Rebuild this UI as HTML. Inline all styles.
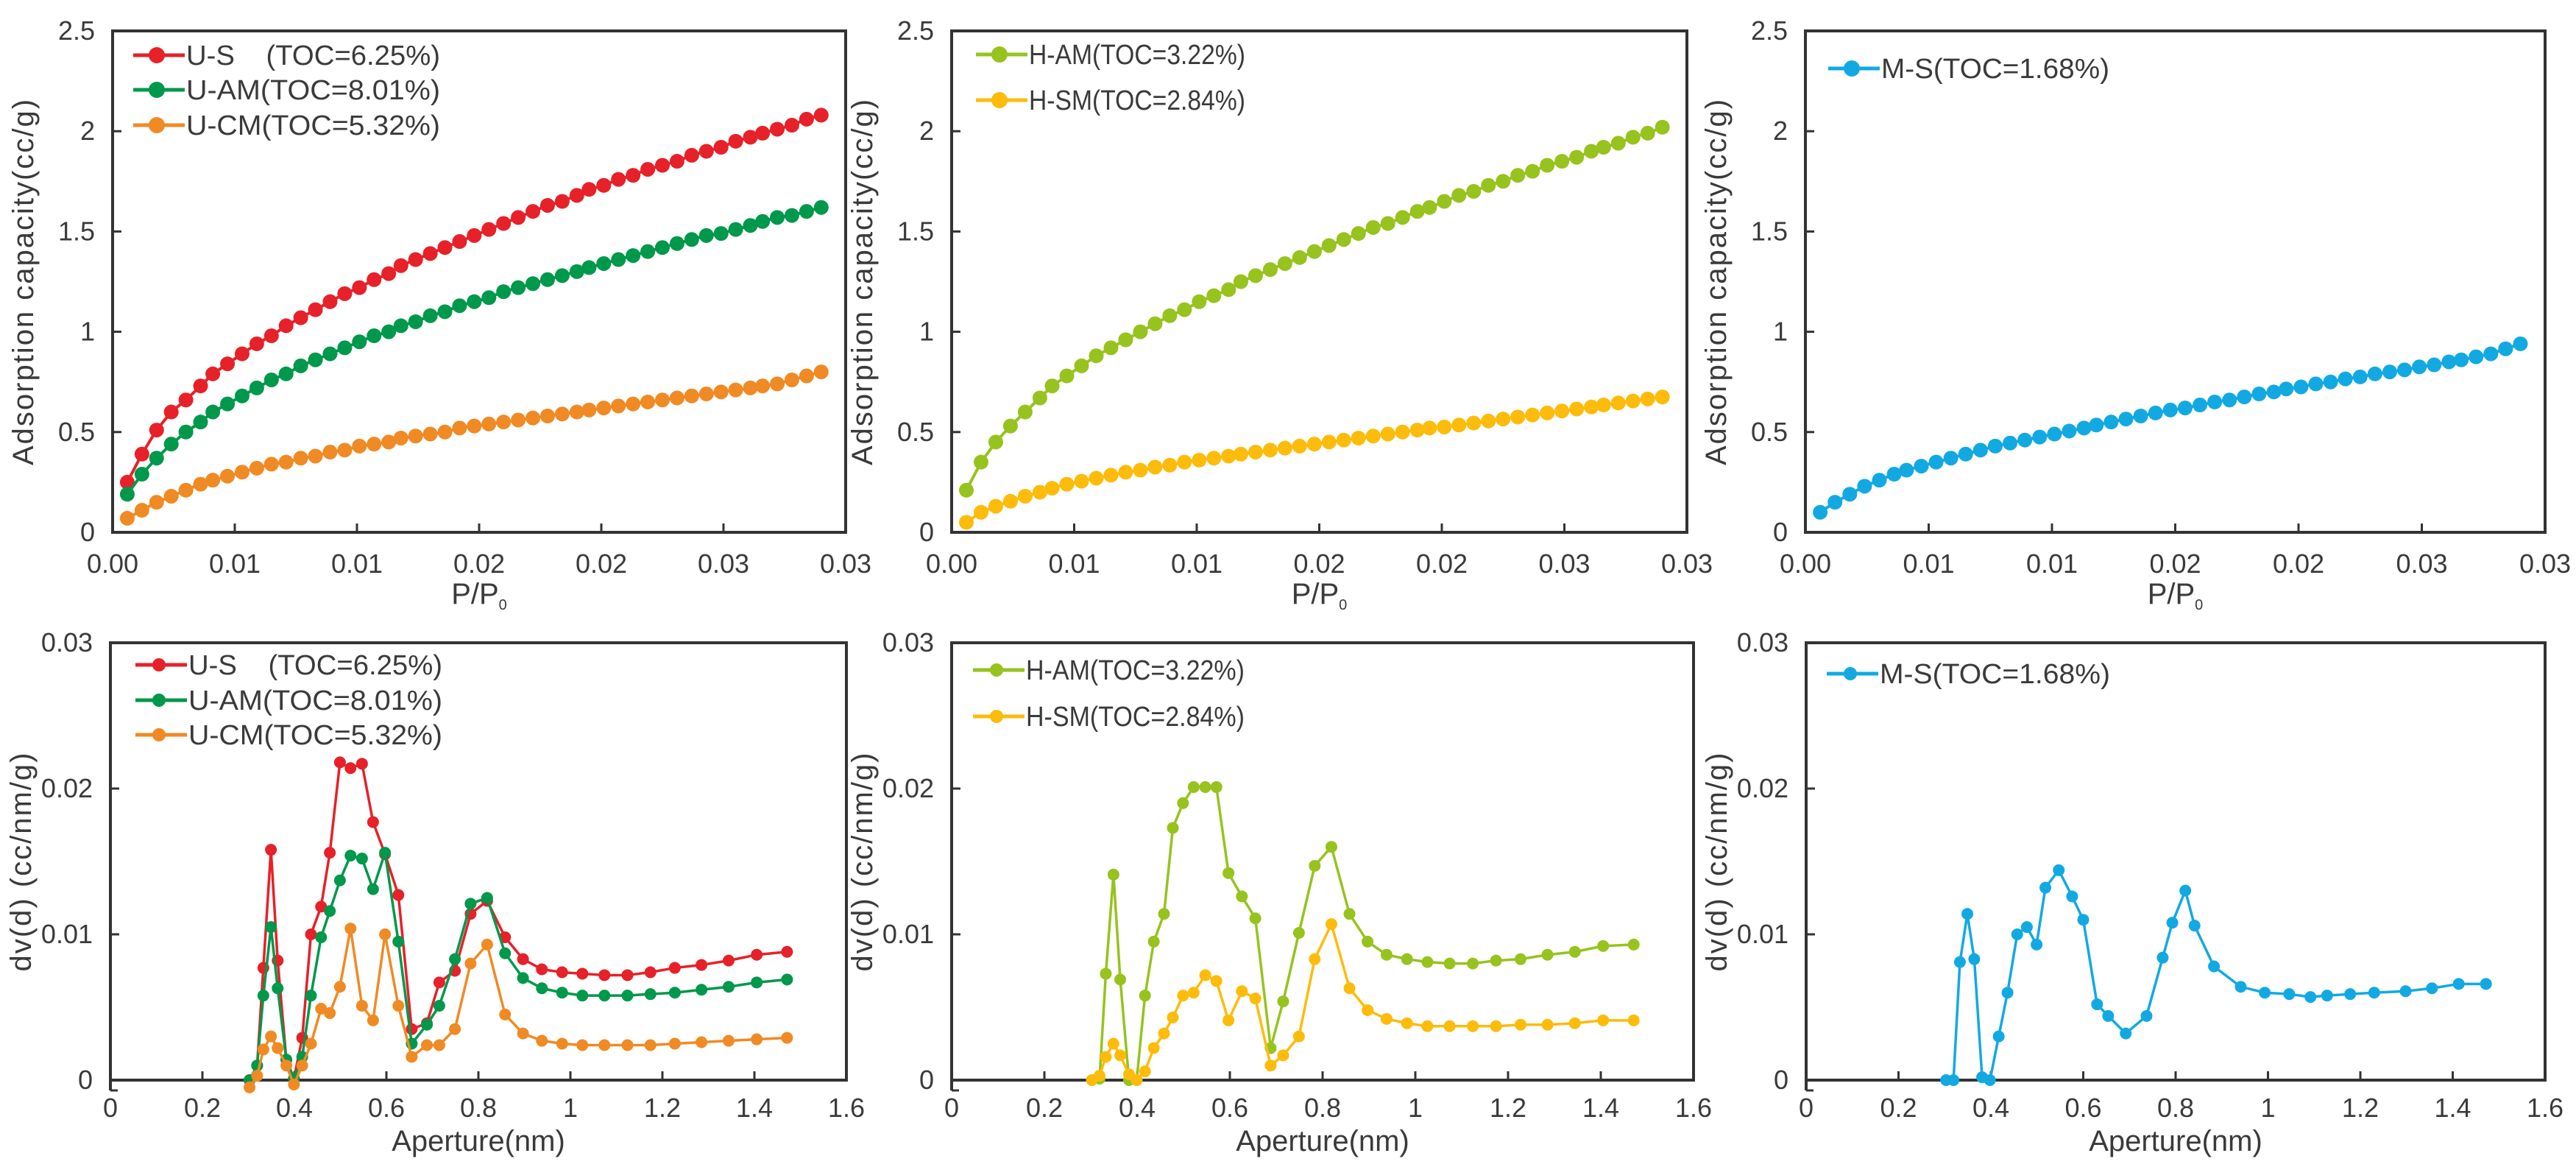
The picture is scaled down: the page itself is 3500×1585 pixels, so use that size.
<!DOCTYPE html>
<html><head><meta charset="utf-8"><style>
html,body{margin:0;padding:0;background:#fff;}
svg{display:block;font-family:"Liberation Sans",Arial,sans-serif;}
</style></head><body>
<svg id="chart" width="3500" height="1585" viewBox="0 0 3500 1585" xmlns="http://www.w3.org/2000/svg"></svg>
<script>
// ---- top panels data (adsorption isotherms) ----
const topX = [0.0006,0.0012,0.0018,0.0024,0.0030,0.0036,0.0041,0.0047,0.0053,0.0059,0.0065,0.0071,0.0077,0.0083,0.0089,0.0095,0.0101,0.0107,0.0113,0.0118,0.0124,0.0130,0.0136,0.0142,0.0148,0.0154,0.0160,0.0166,0.0172,0.0178,0.0184,0.0190,0.0195,0.0201,0.0207,0.0213,0.0219,0.0225,0.0231,0.0237,0.0243,0.0249,0.0255,0.0261,0.0266,0.0272,0.0278,0.0284,0.0290];
const usTop = [0.25,0.39,0.51,0.6,0.66,0.73,0.79,0.84,0.89,0.94,0.98,1.03,1.07,1.11,1.15,1.19,1.22,1.26,1.29,1.33,1.36,1.39,1.42,1.45,1.48,1.51,1.54,1.57,1.60,1.63,1.65,1.68,1.71,1.73,1.76,1.78,1.81,1.83,1.85,1.88,1.90,1.92,1.95,1.97,1.99,2.01,2.03,2.06,2.08];
const uamTop = [0.19,0.29,0.37,0.44,0.5,0.55,0.6,0.64,0.68,0.72,0.76,0.79,0.83,0.86,0.89,0.92,0.95,0.98,1.0,1.03,1.05,1.08,1.10,1.13,1.15,1.17,1.20,1.22,1.24,1.26,1.28,1.30,1.32,1.34,1.36,1.38,1.40,1.42,1.44,1.46,1.48,1.49,1.51,1.53,1.55,1.57,1.58,1.60,1.62];
const ucmTop = [0.07,0.11,0.15,0.18,0.21,0.24,0.26,0.28,0.30,0.32,0.34,0.35,0.37,0.38,0.40,0.41,0.43,0.44,0.45,0.47,0.48,0.49,0.50,0.52,0.53,0.54,0.55,0.56,0.57,0.58,0.59,0.60,0.61,0.62,0.63,0.64,0.65,0.66,0.67,0.68,0.69,0.70,0.71,0.72,0.73,0.74,0.76,0.78,0.80];
const hamTop = [0.21,0.35,0.45,0.53,0.60,0.67,0.73,0.78,0.83,0.88,0.92,0.96,1.00,1.04,1.08,1.11,1.15,1.18,1.21,1.25,1.28,1.31,1.34,1.37,1.40,1.43,1.46,1.49,1.52,1.54,1.57,1.60,1.62,1.65,1.68,1.70,1.73,1.75,1.78,1.80,1.83,1.85,1.87,1.90,1.92,1.94,1.97,1.99,2.02];
const hsmTop = [0.05,0.10,0.13,0.155,0.18,0.20,0.22,0.24,0.255,0.27,0.285,0.30,0.31,0.325,0.335,0.35,0.36,0.37,0.38,0.39,0.40,0.41,0.42,0.43,0.44,0.45,0.46,0.47,0.48,0.49,0.50,0.51,0.52,0.525,0.535,0.545,0.555,0.565,0.575,0.585,0.595,0.605,0.615,0.625,0.635,0.645,0.655,0.665,0.675];
const msTop = [0.10,0.15,0.19,0.23,0.26,0.29,0.31,0.33,0.35,0.37,0.39,0.41,0.43,0.445,0.46,0.475,0.49,0.505,0.52,0.535,0.55,0.565,0.58,0.595,0.61,0.62,0.635,0.65,0.66,0.675,0.69,0.70,0.715,0.725,0.74,0.75,0.765,0.775,0.79,0.80,0.81,0.825,0.835,0.85,0.86,0.875,0.89,0.915,0.94];
const topYTicks = [0,0.5,1,1.5,2,2.5];
const topYTickLabels = ["0","0.5","1","1.5","2","2.5"];
const topXTicks = [0,0.005,0.01,0.015,0.02,0.025,0.03];
const topXTickLabels = ["0.00","0.01","0.01","0.02","0.02","0.03","0.03"];

// ---- bottom panels data (pore size distribution) ----
const botX = [0.3025,0.319,0.3325,0.349,0.3636,0.3825,0.399,0.417,0.436,0.458,0.477,0.499,0.522,0.547,0.571,0.597,0.626,0.655,0.688,0.715,0.749,0.783,0.819,0.858,0.897,0.938,0.982,1.026,1.074,1.124,1.174,1.227,1.285,1.344,1.405,1.471];
const usBot = [0,0.001,0.0077,0.0158,0.0082,0.0014,0.0001,0.0029,0.0100,0.0119,0.0156,0.0218,0.0214,0.0217,0.0177,0.0155,0.0127,0.0035,0.0039,0.0067,0.0075,0.0114,0.0123,0.0098,0.0083,0.0076,0.0074,0.0073,0.0072,0.0072,0.0074,0.0077,0.0079,0.0082,0.0086,0.0088];
const uamBot = [0,0.001,0.0058,0.0105,0.0063,0.0014,0.0001,0.0016,0.0058,0.0098,0.0116,0.0137,0.0154,0.0152,0.0131,0.0156,0.0095,0.0025,0.0038,0.0051,0.0083,0.0121,0.0125,0.0087,0.0070,0.0063,0.0060,0.0058,0.0058,0.0058,0.0059,0.0060,0.0062,0.0064,0.0067,0.0069];
const ucmBot = [-0.0005,0.0003,0.0021,0.0030,0.0022,0.0010,-0.0003,0.0010,0.0025,0.0049,0.0046,0.0064,0.0104,0.0051,0.0041,0.0100,0.0051,0.0016,0.0024,0.0024,0.0035,0.0080,0.0093,0.0045,0.0032,0.0027,0.0025,0.0024,0.0024,0.0024,0.0024,0.0025,0.0026,0.0027,0.0028,0.0029];
const hamBot = [0,0.0001,0.0073,0.0141,0.0069,0,0,0.0058,0.0095,0.0114,0.0173,0.0190,0.0201,0.0201,0.0201,0.0142,0.0126,0.0111,0.0022,0.0054,0.0101,0.0147,0.0160,0.0114,0.0095,0.0086,0.0083,0.0081,0.0080,0.0080,0.0082,0.0083,0.0086,0.0088,0.0092,0.0093];
const hsmBot = [0,0.0003,0.0016,0.0025,0.0017,0.0004,0,0.0006,0.0022,0.0032,0.0043,0.0058,0.0060,0.0072,0.0068,0.0041,0.0061,0.0056,0.0010,0.0017,0.0030,0.0083,0.0107,0.0063,0.0048,0.0042,0.0039,0.0037,0.0037,0.0037,0.0037,0.0038,0.0038,0.0039,0.0041,0.0041];
const msBotX = [0.303,0.319,0.333,0.349,0.364,0.381,0.398,0.417,0.436,0.457,0.478,0.499,0.518,0.547,0.576,0.600,0.630,0.654,0.692,0.737,0.772,0.793,0.821,0.841,0.883,0.941,0.993,1.046,1.092,1.128,1.178,1.230,1.298,1.355,1.413,1.472];
const msBot = [0,0,0.0081,0.0114,0.0083,0.0002,0,0.0030,0.0060,0.0100,0.0105,0.0093,0.0132,0.0144,0.0126,0.0110,0.0052,0.0044,0.0032,0.0044,0.0084,0.0108,0.0130,0.0106,0.0078,0.0064,0.0060,0.0059,0.0057,0.0058,0.0059,0.0060,0.0061,0.0063,0.0066,0.0066];
const botYTicks = [0,0.01,0.02,0.03];
const botYTickLabels = ["0","0.01","0.02","0.03"];
const botXTicks = [0,0.2,0.4,0.6,0.8,1,1.2,1.4,1.6];
const botXTickLabels = ["0","0.2","0.4","0.6","0.8","1","1.2","1.4","1.6"];

const C = {red:"#e62129", green:"#00984a", orange:"#f08a24", lime:"#96c31e", yellow:"#fdbc0b", cyan:"#12a9e3"};
const NS = "http://www.w3.org/2000/svg";
const svg = document.getElementById("chart");
function mk(tag, attrs, parent){ const e=document.createElementNS(NS,tag); for(const k in attrs) e.setAttribute(k,attrs[k]); (parent||svg).appendChild(e); return e; }

function panel(o){
  const g = mk("g",{});
  
  
  const sx = v => o.left + (v - o.xmin)/(o.xmax - o.xmin)*o.width;
  const sy = v => o.zeroY - (v - o.ymin)/(o.ymax - o.ymin)*(o.zeroY - o.top);
  const fr = mk("rect",{x:o.left,y:o.top,width:o.width,height:o.zeroY-o.top,fill:"none",stroke:"#333",'stroke-width':4},g);
  
  
  if(o.ext){ const ex = mk("line",{x1:o.left,y1:o.zeroY,x2:o.left,y2:o.zeroY+o.ext,stroke:"#333",'stroke-width':4},g);
     
    const et = mk("line",{x1:o.left,y1:o.zeroY+o.ext,x2:o.left+10,y2:o.zeroY+o.ext,stroke:"#333",'stroke-width':3},g);
      }
  o.yTicks.forEach((t,i)=>{
    const y = sy(t);
    const tk = mk("line",{x1:o.left,y1:y,x2:o.left+12,y2:y,stroke:"#333",'stroke-width':3},g);
     
    const tx = mk("text",{x:o.left-24,y:y+12,'text-anchor':"end",'font-size':36,fill:"#3a3a3a"},g);
    tx.textContent = o.yLabels[i];
     
  });
  o.xTicks.forEach((t,i)=>{
    const x = sx(t);
    const tk = mk("line",{x1:x,y1:o.zeroY,x2:x,y2:o.zeroY-12,stroke:"#333",'stroke-width':3},g);
     
    const tx = mk("text",{x:x,y:o.xLabelY,'text-anchor':"middle",'font-size':36,fill:"#3a3a3a"},g);
    tx.textContent = o.xLabels[i];
     
  });
  const yt = mk("text",{x:0,y:0,'text-anchor':"middle",'font-size':40,fill:"#3a3a3a",'letter-spacing':2,transform:`translate(${o.left-108},${(o.top+o.zeroY)/2}) rotate(-90)`},g);
  yt.textContent = o.yTitle;
   
  const xt = mk("text",{x:o.left+o.width/2,y:o.xTitleY,'text-anchor':"middle",'font-size':40,fill:"#3a3a3a"},g);
  if(o.pp){ xt.textContent="P/P"; const s=mk("tspan",{'font-size':20,dy:8},xt); s.textContent="0"; }
  else xt.textContent = o.xTitle;
   
  o.series.forEach((s,si)=>{
    const sg = mk("g",{},g);
    
    
    const xs = s.x;
    const pts = s.y.map((v,i)=>[sx(xs[i]), sy(v)]);
    const pl = mk("polyline",{points:pts.map(p=>p.join(",")).join(" "),fill:"none",stroke:s.color,'stroke-width':o.lw,'stroke-linejoin':"round"},sg);
     
    pts.forEach(p=>{
      const c = mk("circle",{cx:p[0],cy:p[1],r:o.r,fill:s.color},sg);
       
    });
    const ly = o.legY[si];
    const lg = mk("g",{},g);
    
    
    mk("line",{x1:o.legX,y1:ly,x2:o.legX+70,y2:ly,stroke:s.color,'stroke-width':5},lg);
    mk("circle",{cx:o.legX+32,cy:ly,r:o.r+1,fill:s.color},lg);
    const lt = mk("text",{x:o.legX+72,y:ly+13,'font-size':38,fill:"#3a3a3a",'xml:space':"preserve",textLength:o.legW,lengthAdjust:"spacingAndGlyphs"},lg);
    lt.setAttribute('style','white-space:pre');
    lt.textContent = s.label;
  });
}

const topCommon = {top:42, zeroY:723, xmin:0, xmax:0.03, ymin:0, ymax:2.5, yTicks:topYTicks, yLabels:topYTickLabels, xTicks:topXTicks, xLabels:topXTickLabels, xLabelY:778, xTitleY:820, pp:true, yTitle:"Adsorption capacity(cc/g)", lw:4, r:10};
panel(Object.assign({}, topCommon, {name:"isotherm-panel-u", left:153, width:996, legX:181, legY:[75,122,170], legW:345,
  series:[{key:"u-s",label:"U-S    (TOC=6.25%)",color:C.red,x:topX,y:usTop},{key:"u-am",label:"U-AM(TOC=8.01%)",color:C.green,x:topX,y:uamTop},{key:"u-cm",label:"U-CM(TOC=5.32%)",color:C.orange,x:topX,y:ucmTop}]}));
panel(Object.assign({}, topCommon, {name:"isotherm-panel-h", left:1293, width:999, legX:1326, legY:[74,136], legW:294,
  series:[{key:"h-am",label:"H-AM(TOC=3.22%)",color:C.lime,x:topX,y:hamTop},{key:"h-sm",label:"H-SM(TOC=2.84%)",color:C.yellow,x:topX,y:hsmTop}]}));
panel(Object.assign({}, topCommon, {name:"isotherm-panel-m", left:2453, width:1005, legX:2484, legY:[93], legW:310,
  series:[{key:"m-s",label:"M-S(TOC=1.68%)",color:C.cyan,x:topX,y:msTop}]}));

const botCommon = {top:873, zeroY:1467, ext:14, xmin:0, xmax:1.6, ymin:0, ymax:0.03, yTicks:botYTicks, yLabels:botYTickLabels, xTicks:botXTicks, xLabels:botXTickLabels, xLabelY:1517, xTitleY:1563, yTitle:"dv(d)  (cc/nm/g)", xTitle:"Aperture(nm)", lw:3.5, r:8};
panel(Object.assign({}, botCommon, {name:"psd-panel-u", left:150, width:1000, legX:184, legY:[903,951,998], legW:345,
  series:[{key:"u-s",label:"U-S    (TOC=6.25%)",color:C.red,x:botX,y:usBot},{key:"u-am",label:"U-AM(TOC=8.01%)",color:C.green,x:botX,y:uamBot},{key:"u-cm",label:"U-CM(TOC=5.32%)",color:C.orange,x:botX,y:ucmBot}]}));
panel(Object.assign({}, botCommon, {name:"psd-panel-h", left:1293, width:1008, legX:1322, legY:[910,973], legW:297,
  series:[{key:"h-am",label:"H-AM(TOC=3.22%)",color:C.lime,x:botX,y:hamBot},{key:"h-sm",label:"H-SM(TOC=2.84%)",color:C.yellow,x:botX,y:hsmBot}]}));
panel(Object.assign({}, botCommon, {name:"psd-panel-m", left:2454, width:1004, legX:2482, legY:[915], legW:313,
  series:[{key:"m-s",label:"M-S(TOC=1.68%)",color:C.cyan,x:msBotX,y:msBot}]}));
</script>
</body></html>
